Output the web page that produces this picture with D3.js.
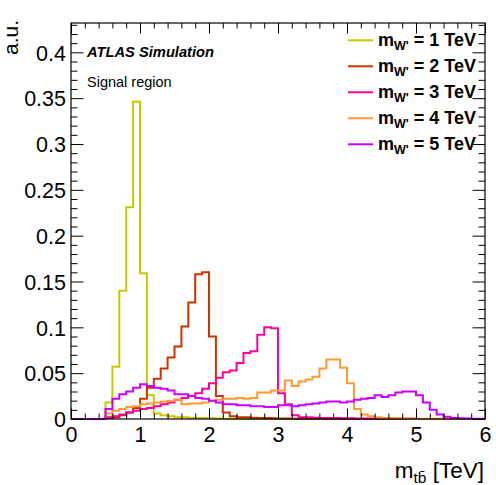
<!DOCTYPE html>
<html>
<head>
<meta charset="utf-8">
<script src="https://cdn.jsdelivr.net/npm/d3@7/dist/d3.min.js"></script>
<style>
  body { margin: 0; background: #fff; }
  svg { display: block; }
  text { font-family: "Liberation Sans", Arial, Helvetica, sans-serif; fill: #000; }
</style>
</head>
<body>
<svg id="chart" width="496" height="485"></svg>
<script>
// Binning of the m_tb distribution: 60 bins of 0.1 TeV from 0 to 6 TeV
const xMin = 0, xMax = 6, binWidth = 0.1;

// Signal mass points and line colours
const massLabels = ["1", "2", "3", "4", "5"];
const massColors = ["#c8c800", "#cc3300", "#ff0099", "#ff9933", "#cc00ff"];

// Normalised bin contents (a.u.), one entry per 0.1 TeV bin
const mW1 = [0,0,0,0,0, 0.018,0.057,0.140,0.231,0.346, 0.159,0.026,0.006,0.004,0.003,
  0.002,0.002,0.0015,0.001,0.001, 0.0008,0.0006,0.0004,0.0003,0.0002, 0.0002,0.0001,0.0001,0.0001,0,
  0,0,0,0,0, 0,0,0,0,0, 0,0,0,0,0, 0,0,0,0,0, 0,0,0,0,0, 0,0,0,0,0];
const mW2 = [0,0,0,0,0, 0.001,0.002,0.004,0.007,0.012, 0.022,0.034,0.044,0.055,0.067,
  0.079,0.101,0.127,0.158,0.160, 0.090,0.025,0.007,0.003,0.002, 0.002,0.0015,0.001,0.001,0.0008,
  0.0006,0.0005,0.0004,0.0003,0.0003, 0.0002,0.0002,0.0001,0.0001,0.0001, 0,0,0,0,0, 0,0,0,0,0, 0,0,0,0,0, 0,0,0,0,0];
const mW3 = [0,0,0,0,0, 0.002,0.003,0.005,0.007,0.009, 0.011,0.012,0.014,0.016,0.018,
  0.021,0.023,0.025,0.028,0.033, 0.039,0.045,0.051,0.053,0.061, 0.072,0.074,0.092,0.100,0.099,
  0.028,0.016,0.004,0.002,0.002, 0.0015,0.001,0.001,0.001,0.0008, 0.0008,0.0006,0.0005,0.0005,0.0004,
  0.0003,0.0003,0.0002,0.0002,0.0002, 0.0001,0.0001,0.0001,0.0001,0, 0,0,0,0,0];
const mW4 = [0,0,0,0,0, 0.006,0.009,0.011,0.013,0.014, 0.016,0.017,0.018,0.019,0.020,
  0.021,0.016,0.017,0.017,0.018, 0.020,0.021,0.022,0.022,0.023, 0.022,0.023,0.029,0.029,0.031,
  0.031,0.042,0.036,0.041,0.043, 0.046,0.055,0.065,0.065,0.056, 0.039,0.011,0.005,0.003,0.002,
  0.0012,0.001,0.0008,0.0006,0.0005, 0.0004,0.0003,0.0003,0.0002,0.0002, 0.0001,0.0001,0.0001,0,0];
const mW5 = [0,0,0,0,0, 0.011,0.022,0.027,0.030,0.034, 0.038,0.036,0.034,0.033,0.031,
  0.027,0.027,0.025,0.023,0.022, 0.020,0.018,0.016,0.016,0.015, 0.015,0.014,0.014,0.013,0.013,
  0.015,0.015,0.014,0.015,0.016, 0.017,0.018,0.019,0.019,0.018, 0.019,0.021,0.022,0.023,0.026,
  0.024,0.026,0.029,0.030,0.030, 0.026,0.018,0.010,0.005,0.0025, 0.001,0.0007,0.0005,0.0003,0.0002];
const seriesValues = [mW1, mW2, mW3, mW4, mW5];

// Axis ticks and labels
const xMajorTicks = [0, 1, 2, 3, 4, 5, 6];
const xMajorLabels = ["0", "1", "2", "3", "4", "5", "6"];
const yMajorTicks = [0, 0.05, 0.1, 0.15, 0.2, 0.25, 0.3, 0.35, 0.4];
const yMajorLabels = ["0", "0.05", "0.1", "0.15", "0.2", "0.25", "0.3", "0.35", "0.4"];
const yMax = 0.432;

const frame = { left: 71, right: 485, top: 23, bottom: 419 };
const svg = d3.select("#chart");

const x = d3.scaleLinear().domain([xMin, xMax]).range([frame.left, frame.right]);
const y = d3.scaleLinear().domain([0, yMax]).range([frame.bottom, frame.top]);

// Histogram outlines (step lines through every bin)
const step = d3.line()
  .x(d => x(d[0]))
  .y(d => y(d[1]))
  .curve(d3.curveStepAfter);

seriesValues.forEach((vals, k) => {
  const pts = vals.map((v, i) => [xMin + i * binWidth, v]);
  pts.push([xMax, vals[vals.length - 1]]);
  svg.append("path")
    .attr("d", step(pts))
    .attr("fill", "none")
    .attr("stroke", massColors[k])
    .attr("stroke-width", 2)
    .attr("stroke-linejoin", "miter");
});

// Minor tick positions
const xMinor = d3.range(0, 31).map(i => i * 0.2).filter(v => Math.abs(v - Math.round(v)) > 1e-6);
const yMinor = d3.range(0, 44).map(i => i * 0.01).filter(v => v <= yMax && Math.abs(v * 20 - Math.round(v * 20)) > 1e-6);

function cleanAxis(g) { g.select(".domain").remove(); g.selectAll("line").attr("stroke", "#000").attr("stroke-width", 1); }

// Bottom axis: ticks drawn inside the frame
svg.append("g").attr("transform", `translate(0,${frame.bottom})`)
  .call(d3.axisBottom(x).tickValues(xMajorTicks).tickSizeInner(-10.5).tickSizeOuter(0).tickPadding(8)
    .tickFormat((d, i) => xMajorLabels[i]))
  .call(cleanAxis)
  .call(g => g.selectAll("text").attr("font-size", 21.5).attr("dy", "0.71em").attr("y", 8));
svg.append("g").attr("transform", `translate(0,${frame.bottom})`)
  .call(d3.axisBottom(x).tickValues(xMinor).tickSizeInner(-5.5).tickSizeOuter(0).tickFormat(""))
  .call(cleanAxis);

// Top axis ticks
svg.append("g").attr("transform", `translate(0,${frame.top})`)
  .call(d3.axisTop(x).tickValues(xMajorTicks).tickSizeInner(-10.5).tickSizeOuter(0).tickFormat(""))
  .call(cleanAxis);
svg.append("g").attr("transform", `translate(0,${frame.top})`)
  .call(d3.axisTop(x).tickValues(xMinor).tickSizeInner(-5.5).tickSizeOuter(0).tickFormat(""))
  .call(cleanAxis);

// Left axis with labels
svg.append("g").attr("transform", `translate(${frame.left},0)`)
  .call(d3.axisLeft(y).tickValues(yMajorTicks).tickSizeInner(-12.5).tickSizeOuter(0).tickPadding(5)
    .tickFormat((d, i) => yMajorLabels[i]))
  .call(cleanAxis)
  .call(g => g.selectAll("text").attr("font-size", 21.5).attr("dy", "0.36em"));
svg.append("g").attr("transform", `translate(${frame.left},0)`)
  .call(d3.axisLeft(y).tickValues(yMinor).tickSizeInner(-6.5).tickSizeOuter(0).tickFormat(""))
  .call(cleanAxis);

// Right axis ticks
svg.append("g").attr("transform", `translate(${frame.right},0)`)
  .call(d3.axisRight(y).tickValues(yMajorTicks).tickSizeInner(-12.5).tickSizeOuter(0).tickFormat(""))
  .call(cleanAxis);
svg.append("g").attr("transform", `translate(${frame.right},0)`)
  .call(d3.axisRight(y).tickValues(yMinor).tickSizeInner(-6.5).tickSizeOuter(0).tickFormat(""))
  .call(cleanAxis);

// Frame
svg.append("rect")
  .attr("x", frame.left).attr("y", frame.top)
  .attr("width", frame.right - frame.left).attr("height", frame.bottom - frame.top)
  .attr("fill", "none").attr("stroke", "#000").attr("stroke-width", 1.2);

// Axis titles
svg.append("text")
  .attr("transform", "translate(18,20) rotate(-90)")
  .attr("text-anchor", "end")
  .attr("font-size", 21)
  .text("a.u.");

const xTitle = svg.append("text")
  .attr("x", 484).attr("y", 478)
  .attr("text-anchor", "end")
  .attr("font-size", 22.5);
xTitle.append("tspan").text("m");
xTitle.append("tspan").attr("font-size", 15.5).attr("dy", 5).text("t\u0062\u0304");
xTitle.append("tspan").attr("dy", -5).text(" [TeV]");

// Plot annotations
svg.append("text")
  .attr("x", 87).attr("y", 57)
  .attr("font-size", 14.7).attr("font-weight", "bold").attr("font-style", "italic")
  .text("ATLAS Simulation");
svg.append("text")
  .attr("x", 87).attr("y", 87)
  .attr("font-size", 14.5)
  .text("Signal region");

// Legend
const legend = svg.append("g");
massLabels.forEach((m, k) => {
  const ly = 40.3 + k * 26;
  legend.append("line")
    .attr("x1", 348).attr("x2", 373).attr("y1", ly).attr("y2", ly)
    .attr("stroke", massColors[k]).attr("stroke-width", 2);
  const t = legend.append("text")
    .attr("x", 378).attr("y", ly + 5.8)
    .attr("font-size", 18).attr("font-weight", "bold");
  t.append("tspan").text("m");
  t.append("tspan").attr("font-size", 12.5).attr("dy", 4).text("W'");
  t.append("tspan").attr("dy", -4).text(` = ${m} TeV`);
});
</script>
</body>
</html>
